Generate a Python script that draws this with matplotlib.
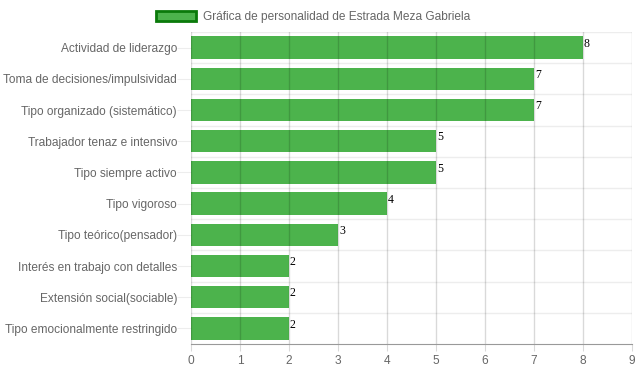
import matplotlib.pyplot as plt
from matplotlib.patches import Patch

plt.rcParams['font.family'] = ['Liberation Sans', 'DejaVu Sans']

categories = ['Actividad de liderazgo', 'Toma de decisiones/impulsividad',
              'Tipo organizado (sistemático)', 'Trabajador tenaz e intensivo',
              'Tipo siempre activo', 'Tipo vigoroso', 'Tipo teórico(pensador)',
              'Interés en trabajo con detalles', 'Extensión social(sociable)',
              'Tipo emocionalmente restringido']
values = [8, 7, 7, 5, 5, 4, 3, 2, 2, 2]
series_label = 'Gráfica de personalidad de Estrada Meza Gabriela'
xticks = list(range(0, 10))

bar_color = '#4cb34c'
text_color = '#666666'

fig = plt.figure(figsize=(6.39, 3.72), dpi=100)
ax = fig.add_axes([191/639, 1 - 344/372, (632-191)/639, (344-32)/372])

pos = list(range(len(categories)))
ax.barh(pos, values, height=0.72, color=bar_color, zorder=1)

for y, v in zip(pos, values):
    ax.text(v + 0.02, y - 0.12, str(v), family='Liberation Serif', fontsize=8.5,
            color='black', ha='left', va='center', zorder=3)

ax.set_ylim(len(categories) - 0.5, -0.5)
ax.set_xlim(0, 9)
ax.set_xticks(xticks)
ax.set_yticks(pos)
ax.set_yticklabels(categories)
ax.tick_params(axis='y', length=10, color=(0, 0, 0, 0.07), labelsize=8.6, labelcolor=text_color, pad=0)
ax.tick_params(axis='x', length=5, color=(0, 0, 0, 0.15), labelsize=8.6, labelcolor=text_color, pad=3)

# grid lines on top of the bars, like the original
for x in xticks:
    ax.axvline(x, color=(0, 0, 0, 0.15), lw=1, zorder=2)
for b in range(len(categories)):
    ax.axhline(b - 0.5, color=(0, 0, 0, 0.07), lw=1, zorder=2)

for s in ['top', 'right', 'left']:
    ax.spines[s].set_visible(False)
ax.spines['bottom'].set_color('#999999')
ax.spines['bottom'].set_zorder(3)

handle = Patch(facecolor=bar_color, edgecolor='#0a7a0a', linewidth=2)
fig.legend([handle], [series_label], loc='upper center', bbox_to_anchor=(0.49, 1.0),
           frameon=False, fontsize=8.6, labelcolor=text_color,
           handlelength=3.3, handleheight=1.0, handletextpad=0.6)

fig.savefig('out.png', dpi=100)
